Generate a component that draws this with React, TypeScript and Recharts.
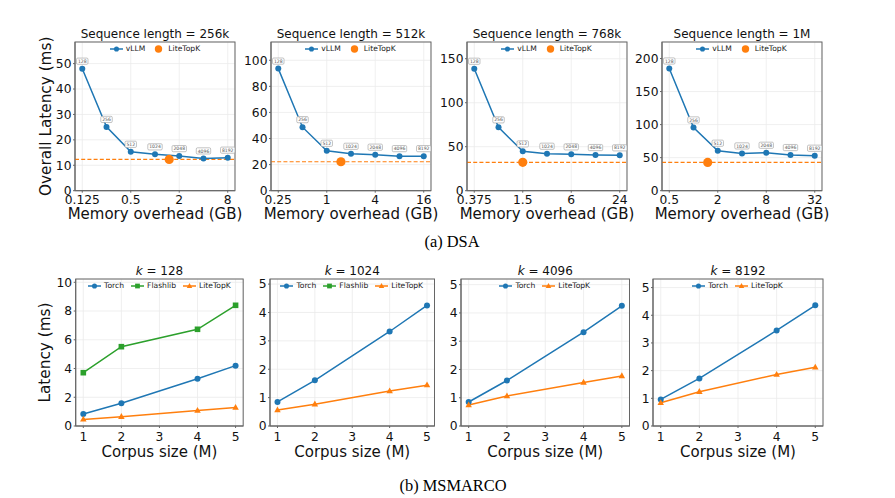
import React from 'react';
import {
  ComposedChart,
  Line,
  Scatter,
  XAxis,
  YAxis,
  CartesianGrid,
  ReferenceLine,
  LabelList,
  Legend,
  Customized,
} from 'recharts';

const BLUE = '#1f77b4';
const ORANGE = '#ff7f0e';
const GREEN = '#2ca02c';
const FONT = '"DejaVu Sans", sans-serif';
const SERIF = '"Liberation Serif", "Times New Roman", serif';

// ---- (a) DSA: overall latency vs. memory overhead ----
const topkTags = ['128', '256', '512', '1024', '2048', '4096', '8192'];
const seqLengths = ['256k', '512k', '768k', '1M'];
const mem256k = [0.125, 0.25, 0.5, 1, 2, 4, 8];
const mem512k = [0.25, 0.5, 1, 2, 4, 8, 16];
const mem768k = [0.375, 0.75, 1.5, 3, 6, 12, 24];
const mem1M = [0.5, 1, 2, 4, 8, 16, 32];
const vllm256k = [48.0, 25.1, 15.3, 14.3, 13.6, 12.7, 13.0];
const vllm512k = [93.6, 48.7, 30.6, 28.3, 27.6, 26.5, 26.5];
const vllm768k = [138.6, 72.0, 44.7, 42.0, 41.3, 40.5, 40.2];
const vllm1M = [184.9, 95.7, 60.5, 56.4, 57.4, 53.9, 52.9];
const liteTopKMem = [1.5, 1.5, 1.5, 1.5];
const liteTopKLatency = [12.3, 22.2, 32.2, 42.8];
const dsaXTicks = [
  [0.125, 0.5, 2, 8],
  [0.25, 1, 4, 16],
  [0.375, 1.5, 6, 24],
  [0.5, 2, 8, 32],
];
const dsaYTicks = [
  [0, 10, 20, 30, 40, 50],
  [0, 20, 40, 60, 80, 100],
  [0, 50, 100, 150],
  [0, 50, 100, 150, 200],
];
const dsaYMax = [58.5, 114, 169, 225];

// ---- (b) MSMARCO: latency vs. corpus size ----
const kValues = ['128', '1024', '4096', '8192'];
const corpusSize = [1, 2, 4, 5];
const torch128 = [0.84, 1.58, 3.29, 4.2];
const flashlib128 = [3.71, 5.52, 6.73, 8.4];
const lite128 = [0.46, 0.65, 1.07, 1.28];
const torch1024 = [0.85, 1.61, 3.33, 4.25];
const lite1024 = [0.56, 0.77, 1.23, 1.44];
const torch4096 = [0.85, 1.61, 3.32, 4.25];
const lite4096 = [0.74, 1.06, 1.54, 1.77];
const torch8192 = [0.96, 1.72, 3.45, 4.36];
const lite8192 = [0.84, 1.24, 1.86, 2.12];
const msYTicks = [
  [0, 2, 4, 6, 8, 10],
  [0, 1, 2, 3, 4, 5],
  [0, 1, 2, 3, 4, 5],
  [0, 1, 2, 3, 4, 5],
];
const msYMax = [10.23, 5.18, 5.2, 5.31];
const msXTicks = [1, 2, 3, 4, 5];

type MarkerKind = 'circle' | 'bigcircle' | 'square' | 'triangle';

const Marker = ({ cx, cy, kind, color, s = 1 }: { cx: number; cy: number; kind: MarkerKind; color: string; s?: number }) => {
  if (cx == null || cy == null) return null;
  if (kind === 'square') {
    const h = 2.8 * s;
    return <rect x={cx - h} y={cy - h} width={2 * h} height={2 * h} fill={color} />;
  }
  if (kind === 'triangle') {
    const r = 3.6 * s;
    return (
      <polygon
        points={`${cx},${cy - r} ${cx - r * 0.9},${cy + r * 0.62} ${cx + r * 0.9},${cy + r * 0.62}`}
        fill={color}
      />
    );
  }
  const r = (kind === 'bigcircle' ? 4.6 : 3) * s;
  return <circle cx={cx} cy={cy} r={r} fill={color} />;
};

type LegendItem = { name: string; color: string; kind: MarkerKind; line: boolean };

const LegendRow = ({ items }: { items: LegendItem[] }) => (
  <div
    style={{
      display: 'flex',
      justifyContent: 'center',
      alignItems: 'center',
      gap: 7,
      fontFamily: FONT,
      fontSize: 7.6,
      lineHeight: '10px',
      color: '#222',
      whiteSpace: 'nowrap',
    }}
  >
    {items.map((it) => (
      <div key={it.name} style={{ display: 'flex', alignItems: 'center' }}>
        <svg width={13} height={10} style={{ display: 'block' }}>
          {it.line && <line x1={0} y1={5} x2={13} y2={5} stroke={it.color} strokeWidth={1.5} />}
          <Marker cx={6.5} cy={5} kind={it.kind} color={it.color} s={it.kind === 'bigcircle' ? 0.8 : 0.85} />
        </svg>
        <span style={{ marginLeft: 3 }}>{it.name}</span>
      </div>
    ))}
  </div>
);

type SeriesSpec = {
  name: string;
  color: string;
  kind: MarkerKind;
  data: { x: number; y: number; tag?: string }[];
  line: boolean;
  tags?: boolean;
};

type PanelSpec = {
  x: number;
  y: number;
  w: number;
  h: number;
  log: boolean;
  xDomain: [number, number];
  xTicks: number[];
  yDomain: [number, number];
  yTicks: number[];
  title: React.ReactNode;
  xLabel: string;
  yLabel?: string;
  series: SeriesSpec[];
  legend: LegendItem[];
  refY?: number;
  tickBaseline: number;
  xLabelBaseline: number;
};

const TagLabel = (props: any) => {
  const { x, y, value } = props;
  if (x == null || y == null) return null;
  const text = String(value);
  const bw = text.length * 2.95 + 2.6;
  const bh = 6.2;
  return (
    <g>
      <rect
        x={x - bw / 2}
        y={y - 10.6}
        width={bw}
        height={bh}
        rx={1.2}
        fill="#fff"
        stroke="#9a9a9a"
        strokeWidth={0.6}
      />
      <text x={x} y={y - 5.9} fontSize={4.6} fontFamily={FONT} textAnchor="middle" fill="#555">
        {text}
      </text>
    </g>
  );
};

const Panel = ({ p }: { p: PanelSpec }) => {
  const MT = 32;
  const MR = 8;
  const XH = 48;
  const YW = p.yLabel ? p.x - 4 : 36;
  const left = p.x - YW;
  const top = p.y - MT;
  const width = YW + p.w + MR;
  const height = MT + p.h + XH;
  const tickStyle = { fontSize: 12.3, fill: '#111', fontFamily: FONT };
  return (
    <div style={{ position: 'absolute', left, top }}>
      <ComposedChart width={width} height={height} margin={{ top: MT, right: MR, bottom: 0, left: 0 }}>
        <CartesianGrid stroke="#ebebeb" strokeWidth={0.8} />
        <XAxis
          type="number"
          dataKey="x"
          scale={p.log ? 'log' : 'linear'}
          domain={p.xDomain}
          ticks={p.xTicks}
          allowDataOverflow
          height={XH}
          stroke="#666"
          tickSize={2}
          tickMargin={p.tickBaseline - 2 - 8.7}
          tick={tickStyle}
          tickFormatter={(v: number) => String(v)}
          label={{
            content: ({ viewBox }: any) => (
              <text
                x={viewBox.x + viewBox.width / 2}
                y={viewBox.y + p.xLabelBaseline}
                fontSize={15}
                fontFamily={FONT}
                textAnchor="middle"
                fill="#111"
              >
                {p.xLabel}
              </text>
            ),
          }}
        />
        <YAxis
          type="number"
          dataKey="y"
          domain={p.yDomain}
          ticks={p.yTicks}
          allowDataOverflow
          width={YW}
          stroke="#666"
          tickSize={2}
          tickMargin={1.5}
          tick={tickStyle}
          label={
            p.yLabel
              ? {
                  content: ({ viewBox }: any) => {
                    const cx = 50.5 - left;
                    const cy = viewBox.y + viewBox.height / 2;
                    return (
                      <text
                        x={cx}
                        y={cy}
                        transform={`rotate(-90 ${cx} ${cy})`}
                        fontSize={15.3}
                        fontFamily={FONT}
                        textAnchor="middle"
                        fill="#111"
                      >
                        {p.yLabel}
                      </text>
                    );
                  },
                }
              : undefined
          }
        />
        {p.refY != null && (
          <ReferenceLine y={p.refY} stroke={ORANGE} strokeWidth={1.2} strokeDasharray="4 2.2" />
        )}
        {p.series.map((s) =>
          s.line ? (
            <Line
              key={s.name}
              data={s.data}
              dataKey="y"
              name={s.name}
              stroke={s.color}
              strokeWidth={1.5}
              isAnimationActive={false}
              dot={(d: any) => <Marker key={`${s.name}-${d.index}`} cx={d.cx} cy={d.cy} kind={s.kind} color={s.color} />}
              activeDot={false}
            >
              {s.tags && <LabelList dataKey="tag" content={TagLabel} />}
            </Line>
          ) : (
            <Scatter
              key={s.name}
              data={s.data}
              dataKey="y"
              name={s.name}
              fill={s.color}
              isAnimationActive={false}
              shape={(d: any) => <Marker cx={d.cx} cy={d.cy} kind={s.kind} color={s.color} />}
            />
          )
        )}
        <Customized
          component={
            <g>
              <rect x={YW} y={MT} width={p.w} height={p.h} fill="none" stroke="#666" strokeWidth={1} />
              <text
                x={YW + p.w / 2}
                y={MT - 4.3}
                fontSize={12}
                fontFamily={FONT}
                textAnchor="middle"
                fill="#111"
              >
                {p.title}
              </text>
            </g>
          }
        />
        <Legend
          verticalAlign="middle"
          align="center"
          content={() => <LegendRow items={p.legend} />}
          wrapperStyle={{ top: MT + 2, left: YW, width: p.w, height: 10 }}
        />
      </ComposedChart>
    </div>
  );
};

const zip = (xs: number[], ys: number[], tags?: string[]) =>
  xs.map((x, i) => ({ x, y: ys[i], tag: tags ? tags[i] : undefined }));

const dsaMem = [mem256k, mem512k, mem768k, mem1M];
const dsaVllm = [vllm256k, vllm512k, vllm768k, vllm1M];
const dsaLeft = [75, 270.5, 466.5, 661.5];

const dsaLegend: LegendItem[] = [
  { name: 'vLLM', color: BLUE, kind: 'circle', line: true },
  { name: 'LiteTopK', color: ORANGE, kind: 'bigcircle', line: false },
];

const dsaPanels: PanelSpec[] = seqLengths.map((seq, i) => {
  const mem = dsaMem[i];
  const lo = mem[0];
  const hi = mem[mem.length - 1];
  return {
    x: dsaLeft[i],
    y: 42,
    w: 160,
    h: 148.7,
    log: true,
    xDomain: [lo / Math.pow(2, 0.3), hi * Math.pow(2, 0.3)],
    xTicks: dsaXTicks[i],
    yDomain: [0, dsaYMax[i]],
    yTicks: dsaYTicks[i],
    title: `Sequence length = ${seq}`,
    xLabel: 'Memory overhead (GB)',
    yLabel: i === 0 ? 'Overall Latency (ms)' : undefined,
    series: [
      { name: 'vLLM', color: BLUE, kind: 'circle', line: true, tags: true, data: zip(mem, dsaVllm[i], topkTags) },
      {
        name: 'LiteTopK',
        color: ORANGE,
        kind: 'bigcircle',
        line: false,
        data: [{ x: liteTopKMem[i], y: liteTopKLatency[i] }],
      },
    ],
    legend: dsaLegend,
    refY: liteTopKLatency[i],
    tickBaseline: 13.3,
    xLabelBaseline: 28.8,
  };
});

const msTorch = [torch128, torch1024, torch4096, torch8192];
const msLite = [lite128, lite1024, lite4096, lite8192];
const msLeft = [75.7, 269.5, 460.5, 652.5];
const msWidth = [167.5, 164.5, 168.5, 170];

const torchItem: LegendItem = { name: 'Torch', color: BLUE, kind: 'circle', line: true };
const flashItem: LegendItem = { name: 'Flashlib', color: GREEN, kind: 'square', line: true };
const liteItem: LegendItem = { name: 'LiteTopK', color: ORANGE, kind: 'triangle', line: true };

const msPanels: PanelSpec[] = kValues.map((k, i) => {
  const series: SeriesSpec[] = [
    { name: 'Torch', color: BLUE, kind: 'circle', line: true, data: zip(corpusSize, msTorch[i]) },
  ];
  if (i === 0) {
    series.push({ name: 'Flashlib', color: GREEN, kind: 'square', line: true, data: zip(corpusSize, flashlib128) });
  }
  series.push({ name: 'LiteTopK', color: ORANGE, kind: 'triangle', line: true, data: zip(corpusSize, msLite[i]) });
  return {
    x: msLeft[i],
    y: 279,
    w: msWidth[i],
    h: 147,
    log: false,
    xDomain: [0.8, 5.2],
    xTicks: msXTicks,
    yDomain: [0, msYMax[i]],
    yTicks: msYTicks[i],
    title: (
      <>
        <tspan fontStyle="italic">k</tspan>
        {` = ${k}`}
      </>
    ),
    xLabel: 'Corpus size (M)',
    yLabel: i === 0 ? 'Latency (ms)' : undefined,
    series,
    legend: i < 2 ? [torchItem, flashItem, liteItem] : [torchItem, liteItem],
    tickBaseline: 14.5,
    xLabelBaseline: 31,
  };
});

export default function App() {
  return (
    <div
      style={{
        position: 'absolute',
        left: 0,
        top: 0,
        width: 895,
        height: 498,
        background: '#fff',
        overflow: 'hidden',
      }}
    >
      {dsaPanels.map((p, i) => (
        <Panel key={`dsa-${i}`} p={p} />
      ))}
      {msPanels.map((p, i) => (
        <Panel key={`ms-${i}`} p={p} />
      ))}
      <svg width={895} height={498} style={{ position: 'absolute', left: 0, top: 0, pointerEvents: 'none' }}>
        <text x={452} y={247} fontSize={16.4} fontFamily={SERIF} textAnchor="middle" fill="#000">
          (a) DSA
        </text>
        <text x={453} y={490.5} fontSize={16.4} fontFamily={SERIF} textAnchor="middle" fill="#000">
          (b) MSMARCO
        </text>
      </svg>
    </div>
  );
}
